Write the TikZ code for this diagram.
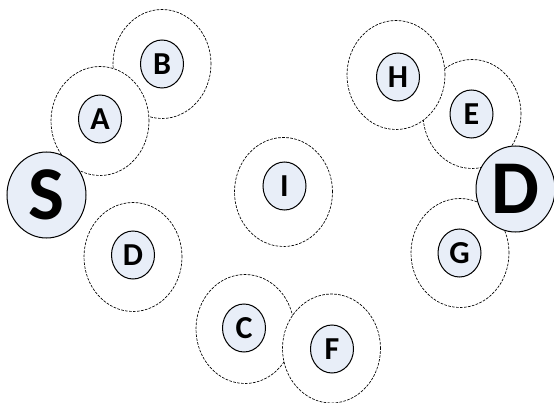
\documentclass[tikz,border=0pt]{standalone}
\usepackage{fontspec}
\setmainfont{Carlito}
\usetikzlibrary{shapes.geometric}
\definecolor{hopfill}{RGB}{232,238,248}

\tikzset{
  reach/.style={draw, ellipse, fill=white, line width=0.5pt, dash pattern=on 2pt off 1pt,
    minimum width=73.5pt, minimum height=81.75pt, inner sep=0pt},
  hop/.style={draw, ellipse, fill=hopfill, line width=0.75pt, minimum width=32.25pt,
    minimum height=36pt, inner sep=0pt, font=\bfseries\fontsize{24}{24}\selectfont},
  terminal/.style={draw, ellipse, fill=hopfill, line width=0.75pt, minimum width=59.25pt,
    minimum height=64.5pt, inner sep=0pt, font=\bfseries\fontsize{57}{57}\selectfont}
}

\begin{document}
\begin{tikzpicture}[x=0.75pt,y=0.75pt,yscale=-1,xscale=1]
\useasboundingbox (0,0) rectangle (554,403);

%Shape: Ellipse [reach of B]
\node [reach] (rB) at (162,64) {};
%Shape: Ellipse [reach of A]
\node [reach] (rA) at (100,121) {};
%Shape: Ellipse [reach of E]
\node [reach] (rE) at (472,114) {};
%Shape: Ellipse [reach of H]
\node [reach] (rH) at (396,75) {};
%Shape: Ellipse [reach of C]
\node [reach] (rC) at (245,329) {};
%Shape: Ellipse [reach of F]
\node [reach] (rF) at (331.5,348.5) {};
%Shape: Ellipse [reach of D]
\node [reach] (rD) at (133,257) {};
%Shape: Ellipse [reach of I]
\node [reach] (rI) at (283.5,192) {};
%Shape: Ellipse [reach of G]
\node [reach] (rG) at (460,253) {};

% Hop Nodes
\node [hop] (B) at (162,64) {B};
\node [hop] (A) at (100,119) {A};
\node [hop] (D) at (133,255) {D};
\node [hop] (C) at (244,328) {C};
\node [hop] (F) at (332,349) {F};
\node [hop] (I) at (284.5,186) {I};
\node [hop] (G) at (459.5,253) {G};
\node [hop] (E) at (471.5,114) {E};
\node [hop] (H) at (398,77) {H};

% Source and Destination
\node [terminal] (src) at (46.5,195) {S};
\node [terminal] (dst) at (515.5,189) {D};

\end{tikzpicture}
\end{document}
